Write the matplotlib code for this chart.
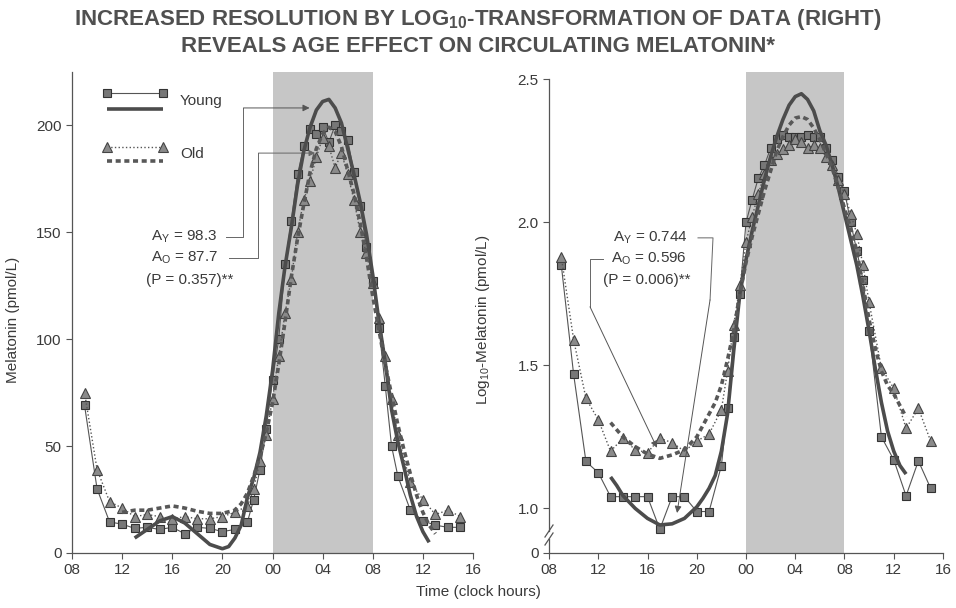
import matplotlib
matplotlib.use('Agg')
import matplotlib.pyplot as plt
from matplotlib.transforms import blended_transform_factory

# ---------------- data ----------------
hour_ticks = [8, 12, 16, 20, 24, 28, 32, 36, 40]
hour_labels = ['08', '12', '16', '20', '00', '04', '08', '12', '16']

t_data = [9, 10, 11, 12, 13, 14, 15, 16, 17, 18, 19, 20, 21, 22,
          22.5, 23, 23.5, 24, 24.5, 25, 25.5, 26, 26.5, 27, 27.5, 28, 28.5, 29, 29.5, 30,
          30.5, 31, 31.5, 32, 32.5, 33, 33.5, 34, 35, 36, 37, 38, 39]

young_lin = [69, 30, 14.5, 13.5, 11.5, 12, 11, 12, 9, 12, 11.5, 10, 11, 14.5,
             25, 39, 58, 81, 100, 135, 155, 177, 190, 198, 196, 199, 192, 200, 197, 193,
             178, 162, 143, 127, 105, 78, 50, 36, 20, 15, 13, 12, 12]
old_lin = [75, 39, 24, 21, 17, 18, 17, 16, 17, 16, 16, 17, 19, 22,
           30, 43, 55, 72, 92, 112, 128, 150, 165, 174, 185, 194, 190, 180, 187, 177,
           165, 150, 140, 126, 110, 92, 72, 55, 33, 25, 18, 20, 17]

young_log = [1.85, 1.469, 1.164, 1.125, 1.041, 1.041, 1.041, 1.041, 0.927, 1.041, 1.041, 0.989, 0.989, 1.149,
             1.35, 1.6, 1.75, 2.0, 2.08, 2.155, 2.2, 2.26, 2.29, 2.306, 2.30, 2.30, 2.30, 2.306, 2.30, 2.30,
             2.26, 2.22, 2.16, 2.11, 2.0, 1.9, 1.8, 1.62, 1.25, 1.17, 1.044, 1.166, 1.07]
old_log = [1.88, 1.59, 1.385, 1.31, 1.20, 1.245, 1.205, 1.195, 1.245, 1.23, 1.20, 1.235, 1.26, 1.345,
           1.48, 1.64, 1.78, 1.93, 2.02, 2.1, 2.17, 2.22, 2.24, 2.255, 2.27, 2.29, 2.28, 2.26, 2.27, 2.26,
           2.23, 2.2, 2.15, 2.10, 2.03, 1.96, 1.85, 1.72, 1.49, 1.42, 1.28, 1.35, 1.235]

# fitted curves
t_fit_young_lin = [13, 14, 15, 16, 17, 18, 19, 20, 20.5, 21, 21.5, 22, 22.5, 23, 23.5, 24,
                   24.5, 25, 25.5, 26, 26.5, 27, 27.5, 28, 28.5, 29, 29.5, 30, 30.5, 31, 31.5, 32,
                   32.5, 33, 33.5, 34, 34.5, 35, 35.5, 36, 36.5]
fit_young_lin = [7, 11, 15, 17, 14, 9, 4, 2, 3, 7, 13, 26, 35, 47, 64, 85,
                 112, 134, 152, 172, 188, 199, 207, 211, 212, 208, 201, 189, 177, 164, 149, 130,
                 108, 89, 67, 52, 40, 27, 17, 10, 5]
t_fit_old_lin = [12, 13, 14, 15, 16, 17, 18, 19, 20, 21, 21.5, 22, 22.5, 23, 23.5, 24, 24.5, 25,
                 25.5, 26, 26.5, 27, 27.5, 28, 28.5, 29, 29.5, 30, 30.5, 31, 31.5, 32, 32.5, 33,
                 33.5, 34, 34.5, 35, 35.5, 36, 36.5, 37]
fit_old_lin = [19, 20, 20, 21, 22, 21, 19.5, 18.5, 18.5, 20, 23, 28, 36, 45, 56, 70, 88, 108,
               129, 147, 163, 178, 189, 196, 199, 197, 190, 179, 168, 154, 138, 120, 104, 88,
               74, 60, 48, 37, 27, 19, 13, 9]

t_fit_young_log = [13, 13.5, 14, 15, 16, 17, 18, 19, 20, 20.5, 21, 21.5, 22, 22.5, 23, 23.5, 24,
                   24.5, 25, 25.5, 26, 26.5, 27, 27.5, 28, 28.5, 29, 29.5, 30, 30.5, 31, 31.5, 32,
                   32.5, 33, 33.5, 34, 34.5, 35, 35.5, 36, 36.5, 37]
fit_young_log = [1.11, 1.08, 1.045, 1.0, 0.965, 0.942, 0.946, 0.965, 1.005, 1.035, 1.07, 1.115, 1.20,
                 1.33, 1.55, 1.75, 1.87, 1.97, 2.06, 2.15, 2.23, 2.30, 2.36, 2.41, 2.44, 2.45, 2.43,
                 2.39, 2.32, 2.27, 2.20, 2.12, 2.03, 1.94, 1.85, 1.74, 1.62, 1.49, 1.37, 1.27, 1.20,
                 1.15, 1.12]
t_fit_old_log = [13, 14, 15, 16, 17, 18, 19, 20, 20.5, 21, 21.5, 22, 22.5, 23, 23.5, 24, 24.5, 25,
                 25.5, 26, 26.5, 27, 27.5, 28, 28.5, 29, 29.5, 30, 30.5, 31, 31.5, 32, 32.5, 33,
                 33.5, 34, 34.5, 35, 35.5, 36, 36.5, 37]
fit_old_log = [1.30, 1.25, 1.216, 1.19, 1.175, 1.187, 1.205, 1.25, 1.29, 1.33, 1.37, 1.43, 1.52,
               1.62, 1.75, 1.86, 1.95, 2.03, 2.11, 2.18, 2.25, 2.30, 2.34, 2.365, 2.37, 2.36, 2.33,
               2.29, 2.24, 2.19, 2.12, 2.05, 1.98, 1.90, 1.78, 1.66, 1.56, 1.48, 1.43, 1.40, 1.36,
               1.32]

lin_yticks = [0, 50, 100, 150, 200]
log_break_value = 0.844
log_yticks = [log_break_value, 1.0, 1.5, 2.0, 2.5]
log_ylabels = ['0', '1.0', '1.5', '2.0', '2.5']
dark_start, dark_end = 24, 32

# ---------------- style ----------------
plt.rcParams['font.family'] = ['Liberation Sans', 'DejaVu Sans']
plt.rcParams['mathtext.fontset'] = 'custom'
plt.rcParams['mathtext.rm'] = 'Liberation Sans'
plt.rcParams['mathtext.bf'] = 'Liberation Sans:bold'
plt.rcParams['mathtext.it'] = 'Liberation Sans:italic'

TXT = '#3a3a3a'
AX = '#555555'
SHADE = '#c6c6c6'
LINE = '#4c4c4c'
SQ_FACE = '#777777'
TRI_FACE = '#8a8a8a'

fig = plt.figure(figsize=(9.56, 6.08), dpi=100)
W, H = 956.0, 608.0

ax1 = fig.add_axes([72 / W, 1 - 553 / H, 401 / W, 481 / H])
ax2 = fig.add_axes([549 / W, 1 - 553 / H, 394 / W, 481 / H])


def style(ax):
    for s in ['top', 'right']:
        ax.spines[s].set_visible(False)
    for s in ['left', 'bottom']:
        ax.spines[s].set_color(AX)
        ax.spines[s].set_linewidth(0.9)
    ax.tick_params(direction='out', length=4, width=0.8, colors=AX, labelcolor=TXT, labelsize=11)
    ax.set_xlim(8, 40)
    ax.set_xticks(hour_ticks)
    ax.set_xticklabels(hour_labels)
    ax.axvspan(dark_start, dark_end, color=SHADE, lw=0, zorder=0)


def draw(ax, yd, od, tyf, yf, tof, of):
    ax.plot(t_data, yd, '-', color='#555555', lw=0.8, marker='s', ms=6,
            mfc=SQ_FACE, mec='#333333', mew=0.8, zorder=3)
    ax.plot(t_data, od, ':', color='#555555', lw=1.0, marker='^', ms=7.5,
            mfc=TRI_FACE, mec='#444444', mew=0.8, zorder=3)
    ax.plot(tyf, yf, '-', color=LINE, lw=2.6, zorder=4, solid_capstyle='butt')
    ax.plot(tof, of, color='#585858', lw=2.6, dashes=(1.4, 1.0), zorder=4)


# ---------- left panel ----------
style(ax1)
ax1.set_ylim(0, 224.8)
ax1.set_yticks(lin_yticks)
draw(ax1, young_lin, old_lin, t_fit_young_lin, fit_young_lin, t_fit_old_lin, fit_old_lin)
ax1.set_ylabel('Melatonin (pmol/L)', fontsize=11, color=TXT)
ax1.yaxis.set_label_coords(-0.13, 0.484)

# legend (drawn manually, stacked like the original)
ta = ax1.transAxes
ax1.plot([0.0865, 0.2277], [0.9557, 0.9557], '-', color='#555555', lw=0.8, marker='s', ms=6,
         mfc=SQ_FACE, mec='#333333', mew=0.8, transform=ta, clip_on=False)
ax1.plot([0.0865, 0.2277], [0.9231, 0.9231], '-', color=LINE, lw=2.6, transform=ta,
         solid_capstyle='butt')
ax1.text(0.269, 0.9403, 'Young', transform=ta, fontsize=11, color=TXT, va='center')
ax1.plot([0.0865, 0.2277], [0.8435, 0.8435], ':', color='#555555', lw=1.0, marker='^', ms=7.5,
         mfc=TRI_FACE, mec='#444444', mew=0.8, transform=ta)
ax1.plot([0.0865, 0.2277], [0.8156, 0.8156], color='#585858', lw=2.6, dashes=(1.4, 1.0),
         transform=ta)
ax1.text(0.269, 0.8295, 'Old', transform=ta, fontsize=11, color=TXT, va='center')

# annotation left
ax1.text(16.96, 147.7, r'A$_\mathregular{Y}$ = 98.3', ha='center', va='center', fontsize=11, color=TXT)
ax1.text(17.0, 137.9, r'A$_\mathregular{O}$ = 87.7', ha='center', va='center', fontsize=11, color=TXT)
ax1.text(17.4, 127.6, '(P = 0.357)**', ha='center', va='center', fontsize=11, color=TXT)
ax1.plot([20.3, 21.68, 21.68], [147.7, 147.7, 208], color='#666666', lw=0.7)
ax1.annotate('', xy=(26.96, 208), xytext=(21.68, 208),
             arrowprops=dict(arrowstyle='-|>', color='#555555', lw=0.7, mutation_scale=10,
                             shrinkA=0, shrinkB=0))
ax1.plot([20.5, 22.88, 22.88], [137.9, 137.9, 186.9], color='#666666', lw=0.7)
ax1.annotate('', xy=(27.4, 186.9), xytext=(22.88, 186.9),
             arrowprops=dict(arrowstyle='-|>', color='#666666', lw=0.7, mutation_scale=9,
                             shrinkA=0, shrinkB=0))

# ---------- right panel ----------
style(ax2)
ax2.set_ylim(log_break_value, 2.526)
ax2.set_yticks(log_yticks)
ax2.set_yticklabels(log_ylabels)
ax2.spines['left'].set_visible(False)
bt = blended_transform_factory(ax2.transAxes, ax2.transData)
ax2.plot([0, 0], [log_break_value, 0.893], color=AX, lw=0.9, transform=bt, clip_on=False)
ax2.plot([0, 0], [0.921, 2.5], color=AX, lw=0.9, transform=bt, clip_on=False)
for cy in [0.0291, 0.0457]:
    ax2.plot([-0.0102, 0.0102], [cy - 0.0125, cy + 0.0125], color=AX, lw=0.9,
             transform=ax2.transAxes, clip_on=False)
draw(ax2, young_log, old_log, t_fit_young_log, fit_young_log, t_fit_old_log, fit_old_log)
ax2.set_ylabel(r'Log$_\mathregular{10}$-Melatonin (pmol/L)', fontsize=11, color=TXT)
ax2.yaxis.set_label_coords(-0.145, 0.484)

ax2.text(16.25, 1.946, r'A$_\mathregular{Y}$ = 0.744', ha='center', va='center', fontsize=11, color=TXT)
ax2.text(16.1, 1.872, r'A$_\mathregular{O}$ = 0.596', ha='center', va='center', fontsize=11, color=TXT)
ax2.text(15.9, 1.799, '(P = 0.006)**', ha='center', va='center', fontsize=11, color=TXT)
ax2.plot([20.1, 21.32, 21.08], [1.946, 1.946, 1.729], color='#666666', lw=0.7)
ax2.annotate('', xy=(18.40, 0.984), xytext=(21.08, 1.729),
             arrowprops=dict(arrowstyle='-|>', color='#555555', lw=0.7, mutation_scale=10,
                             shrinkA=0, shrinkB=0))
ax2.plot([12.4, 11.33, 11.33], [1.872, 1.872, 1.705], color='#666666', lw=0.7)
ax2.annotate('', xy=(16.77, 1.212), xytext=(11.33, 1.705),
             arrowprops=dict(arrowstyle='-|>', color='#555555', lw=0.7, mutation_scale=10,
                             shrinkA=0, shrinkB=0))

# ---------- titles ----------
title_font = ['Liberation Sans Narrow', 'Liberation Sans', 'DejaVu Sans']
fig.text(0.5, 1 - 19 / H, r'INCREASED RESOLUTION BY LOG$_\mathbf{10}$-TRANSFORMATION OF DATA (RIGHT)',
         ha='center', va='center', fontsize=16, fontweight='bold', color='#505050',
         family=title_font)
fig.text(0.5, 1 - 46 / H, 'REVEALS AGE EFFECT ON CIRCULATING MELATONIN*',
         ha='center', va='center', fontsize=16, fontweight='bold', color='#505050',
         family=title_font)
fig.text(478 / W, 1 - 592 / H, 'Time (clock hours)', ha='center', va='center',
         fontsize=11, color=TXT)

fig.savefig('out.png', dpi=100)
